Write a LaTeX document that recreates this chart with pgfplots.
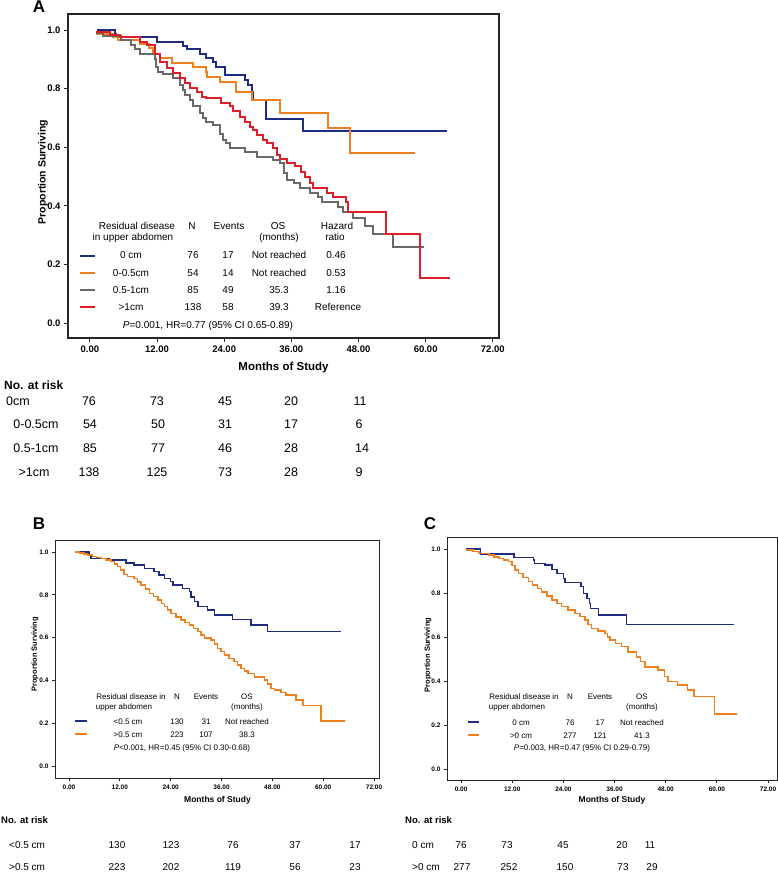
\documentclass[border=0pt]{standalone}
\usepackage{fontspec}
\setmainfont{Liberation Sans}
\usepackage{pgfplots}
\pgfplotsset{compat=1.18}

\definecolor{kmblue}{RGB}{32,44,130}
\definecolor{kmorange}{RGB}{240,128,30}
\definecolor{kmgray}{RGB}{105,105,105}
\definecolor{kmred}{RGB}{222,30,40}

\newcommand{\fs}[1]{\fontsize{#1}{#1}\selectfont}
% text node at pixel position (x from left, y from top)
\newcommand{\tx}[4][]{\node[inner sep=0pt,text height=0.72em,text depth=0pt,#1] at (#2pt,-#3pt) {#4};}

\pgfplotsset{
  km/.style={
    scale only axis,
    axis line style={draw=black!85},
    tick align=outside,
    xtick pos=bottom, ytick pos=left,
    xtick={0,12,24,36,48,60,72},
    ytick={0,0.2,0.4,0.6,0.8,1.0},
    /pgf/number format/assume math mode=true,
    xticklabel style={/pgf/number format/.cd,fixed,fixed zerofill,precision=2},
    yticklabel style={/pgf/number format/.cd,fixed,fixed zerofill,precision=1},
    xlabel={Months of Study},
    ylabel={Proportion Surviving},
    every axis plot/.append style={const plot, no markers, line cap=rect},
  }
}

\begin{document}
\begin{tikzpicture}
\path[use as bounding box] (0pt,0pt) rectangle (778pt,-872pt);

% ---------------- Panel A ----------------
\begin{axis}[km,
  at={(68pt,-14pt)}, anchor=north west,
  width=431pt, height=324pt,
  xmin=-3.9, xmax=73.1, ymin=-0.051, ymax=1.055,
  axis line style={line width=1.3pt},
  major tick length=4pt, every tick/.style={line width=1pt, black!85},
  tick label style={font=\bfseries\fs{9.5}},
  xlabel style={font=\bfseries\fs{11.5}, at={(axis description cs:0.5,-0.09)}, anchor=center},
  ylabel style={font=\bfseries\fs{10.5}, at={(axis description cs:-0.058,0.512)}, anchor=center},
]
\addplot[kmblue, line width=2pt] coordinates {
(1.4,1.0) (4.5,0.987) (4.6,0.975) (12,0.96) (16.7,0.947) (17.3,0.934) (19.6,0.92)
(20.8,0.905) (22,0.89) (22.6,0.875) (24.1,0.846) (27.7,0.83) (28.3,0.812) (28.9,0.79)
(29.2,0.76) (31.5,0.698) (38.1,0.655) (63.6,0.655)};
\addplot[kmorange, line width=2pt] coordinates {
(1.2,0.988) (4.2,0.975) (5,0.966) (9,0.954) (10.5,0.94) (11.3,0.92) (12.5,0.905)
(14.6,0.888) (18.4,0.875) (20.8,0.857) (21,0.84) (23.2,0.824) (26.2,0.79) (28.9,0.761)
(33.9,0.716) (42.6,0.667) (46.4,0.582) (57.9,0.582)};
\addplot[kmgray, line width=2pt] coordinates {
(1.2,0.99) (2.3,0.98) (5.5,0.965) (7.4,0.95) (8,0.935) (8.9,0.92) (11.6,0.903)
(11.9,0.875) (12.2,0.858) (13.1,0.85) (14.9,0.835) (16.1,0.812) (16.7,0.795) (17,0.778)
(17.9,0.761) (18.5,0.74) (19.6,0.716) (20.2,0.7) (20.8,0.687) (22,0.675) (23.2,0.647)
(23.8,0.624) (24.4,0.613) (25,0.596) (27.7,0.585) (29.8,0.568) (32.8,0.556) (34,0.545)
(34.6,0.511) (35.2,0.49) (36.4,0.477) (37.6,0.46) (39.3,0.443) (40.8,0.43) (41.4,0.414)
(44.4,0.397) (45.3,0.38) (47,0.357) (49.2,0.33) (50.5,0.304) (54.1,0.26) (59.5,0.26)};
\addplot[kmred, line width=2pt] coordinates {
(1.2,0.995) (3.6,0.985) (5.4,0.975) (9,0.96) (10.2,0.949) (11.6,0.92) (12.5,0.892)
(13.7,0.869) (14.9,0.852) (16.1,0.835) (17,0.818) (17.9,0.804) (19.1,0.79) (20,0.773)
(20.8,0.767) (23.5,0.75) (25,0.742) (25.6,0.725) (26.8,0.704) (27.7,0.687) (28.6,0.67)
(29.2,0.659) (29.8,0.642) (31,0.625) (31.6,0.613) (32.8,0.596) (33.4,0.573) (34,0.56)
(35.2,0.545) (36.7,0.535) (37.8,0.517) (38.4,0.5) (39.3,0.477) (39.9,0.46) (42.3,0.443)
(43.5,0.43) (45.8,0.414) (46.1,0.38) (53,0.304) (59,0.153) (64.1,0.153)};
\end{axis}

% ---------------- Panel B ----------------
\begin{axis}[km,
  at={(55pt,-540pt)}, anchor=north west,
  width=325pt, height=238pt,
  xmin=-3.3, xmax=73.4, ymin=-0.056, ymax=1.056,
  axis line style={line width=1pt},
  major tick length=3pt, every tick/.style={line width=0.8pt, black!85},
  tick label style={font=\bfseries\fs{6.5}},
  xlabel style={font=\bfseries\fs{8.5}, at={(axis description cs:0.5,-0.092)}, anchor=center},
  ylabel style={font=\bfseries\fs{7.5}, at={(axis description cs:-0.0615,0.52)}, anchor=center},
]
\addplot[kmblue, line width=1.5pt] coordinates {
(2,1.0) (4.7,0.985) (5.2,0.97) (9.5,0.962) (13.5,0.948) (15.4,0.94) (17.8,0.924)
(20.1,0.908) (21.3,0.893) (22.5,0.877) (24,0.862) (24.5,0.846) (26.8,0.83) (28.4,0.815)
(28.8,0.79) (29.6,0.768) (30.4,0.745) (32.7,0.729) (34.3,0.706) (38.6,0.685) (42.9,0.659)
(46.9,0.628) (64,0.628)};
\addplot[kmorange, line width=1.5pt] coordinates {
(1.6,1.0) (2.5,0.995) (3.5,0.99) (4.4,0.986) (5.5,0.98) (6.5,0.975) (7.5,0.97)
(8.7,0.962) (9.9,0.955) (10.7,0.945) (11.5,0.932) (12.2,0.915) (13,0.895) (13.8,0.885)
(15.4,0.875) (16.2,0.86) (17,0.846) (18,0.828) (19,0.807) (20,0.792) (21,0.776)
(21.8,0.76) (22.5,0.745) (23.3,0.729) (24.1,0.713) (25.2,0.697) (26.4,0.682) (27.4,0.67)
(28.4,0.659) (29.4,0.643) (30.4,0.628) (31.2,0.612) (32,0.597) (33.5,0.589) (34.3,0.57)
(35.1,0.55) (35.9,0.535) (36.7,0.519) (37.8,0.503) (39,0.488) (39.8,0.472) (40.6,0.456)
(41.4,0.444) (42.2,0.433) (43.8,0.417) (46.1,0.402) (46.9,0.383) (47.7,0.363) (48.5,0.355)
(50,0.343) (51.2,0.332) (53.6,0.308) (55.2,0.282) (59.5,0.21) (64.9,0.21)};
\end{axis}

% ---------------- Panel C ----------------
\begin{axis}[km,
  at={(447pt,-537pt)}, anchor=north west,
  width=330pt, height=243pt,
  xmin=-3.3, xmax=74.1, ymin=-0.05, ymax=1.055,
  axis line style={line width=1pt},
  major tick length=3pt, every tick/.style={line width=0.8pt, black!85},
  tick label style={font=\bfseries\fs{6.5}},
  xlabel style={font=\bfseries\fs{8.5}, at={(axis description cs:0.5,-0.082)}, anchor=center},
  ylabel style={font=\bfseries\fs{7.5}, at={(axis description cs:-0.0576,0.514)}, anchor=center},
]
\addplot[kmblue, line width=1.5pt] coordinates {
(1.4,1.0) (4.6,0.977) (12.4,0.962) (17,0.95) (17.2,0.935) (19.7,0.927) (21.3,0.908)
(22.5,0.889) (24,0.867) (24.4,0.847) (28.1,0.829) (28.7,0.798) (29.5,0.776) (30.1,0.753)
(30.4,0.73) (32.2,0.7) (38.8,0.658) (63.9,0.658)};
\addplot[kmorange, line width=1.5pt] coordinates {
(1.4,0.995) (2.8,0.99) (4.2,0.98) (6.5,0.973) (7.7,0.965) (8.9,0.958) (10,0.95)
(11.1,0.943) (12,0.925) (12.7,0.905) (13.5,0.889) (14.5,0.87) (15.8,0.852) (16.8,0.836)
(17.9,0.82) (18.9,0.806) (20.1,0.787) (21.3,0.768) (22.5,0.752) (23.6,0.738) (25.1,0.722)
(26.7,0.708) (27.9,0.693) (29.1,0.677) (29.8,0.658) (30.6,0.639) (32.1,0.628) (33.7,0.617)
(34.3,0.6) (34.9,0.586) (36.2,0.57) (37.6,0.556) (39.2,0.533) (41.1,0.51) (42.1,0.488)
(43.1,0.465) (46.2,0.45) (47.7,0.42) (48.5,0.397) (50.8,0.382) (53.1,0.359) (54.6,0.329)
(59.4,0.25) (64.6,0.25)};
\end{axis}

% ---------------- panel letters ----------------
\tx[font=\bfseries\fs{17}]{39}{9}{A}
\tx[font=\bfseries\fs{17}]{39}{526}{B}
\tx[font=\bfseries\fs{17}]{430}{526}{C}

% ---------------- legend A ----------------
\begin{scope}[every node/.append style={font=\fs{10}}]
\tx{137}{226}{Residual disease}
\tx{133}{237}{in upper abdomen}
\tx{192}{226}{N}
\tx{229}{226}{Events}
\tx{278}{226}{OS}
\tx{279}{237}{(months)}
\tx{337}{226}{Hazard}
\tx{335}{237}{ratio}
\tx{131}{255}{0 cm}     \tx{193}{255}{76}  \tx{228}{255}{17} \tx{279}{255}{Not reached} \tx{336}{255}{0.46}
\tx{131}{273}{0-0.5cm}  \tx{193}{273}{54}  \tx{228}{273}{14} \tx{279}{273}{Not reached} \tx{336}{273}{0.53}
\tx{131}{290}{0.5-1cm}  \tx{193}{290}{85}  \tx{228}{290}{49} \tx{279}{290}{35.3}        \tx{336}{290}{1.16}
\tx{131}{307}{>1cm}     \tx{193}{307}{138} \tx{228}{307}{58} \tx{279}{307}{39.3}        \tx{338}{307}{Reference}
\tx{208}{325}{\textit{P}=0.001, HR=0.77 (95\% CI 0.65-0.89)}
\end{scope}
\draw[kmblue,   line width=2pt] (80pt,-256pt) -- (95pt,-256pt);
\draw[kmorange, line width=2pt] (80pt,-273pt) -- (95pt,-273pt);
\draw[kmgray,   line width=2pt] (80pt,-290pt) -- (95pt,-290pt);
\draw[kmred,    line width=2pt] (80pt,-307pt) -- (95pt,-307pt);

% ---------------- risk table A ----------------
\tx[anchor=west,font=\bfseries\fs{12}]{4}{386}{No. at risk}
\begin{scope}[every node/.append style={font=\fs{12.5}}]
\tx[anchor=west]{6}{402}{0cm}
\tx{36}{425}{0-0.5cm}
\tx{36}{449}{0.5-1cm}
\tx{34}{473}{>1cm}
\tx{89}{402}{76}  \tx{157}{402}{73}  \tx{225}{402}{45} \tx{291}{402}{20} \tx{360}{402}{11}
\tx{90}{425}{54}  \tx{158}{425}{50}  \tx{225}{425}{31} \tx{291}{425}{17} \tx{359}{425}{6}
\tx{90}{449}{85}  \tx{158}{449}{77}  \tx{225}{449}{46} \tx{291}{449}{28} \tx{362}{449}{14}
\tx{89}{473}{138} \tx{157}{473}{125} \tx{225}{473}{73} \tx{291}{473}{28} \tx{359}{473}{9}
\end{scope}

% ---------------- legend B ----------------
\begin{scope}[every node/.append style={font=\fs{8}}]
\tx{131}{696}{Residual disease in}
\tx{124}{706}{upper abdomen}
\tx{177}{696}{N}
\tx{206}{696}{Events}
\tx{247}{696}{OS}
\tx{247}{706}{(months)}
\tx{128}{721}{<0.5 cm} \tx{177}{721}{130} \tx{206}{721}{31}  \tx{247}{721}{Not reached}
\tx{128}{734}{>0.5 cm} \tx{177}{734}{223} \tx{206}{734}{107} \tx{247}{734}{38.3}
\tx{182}{747}{\textit{P}<0.001, HR=0.45 (95\% CI 0.30-0.68)}
\end{scope}
\draw[kmblue,   line width=1.5pt] (75pt,-721pt) -- (87pt,-721pt);
\draw[kmorange, line width=1.5pt] (75pt,-734pt) -- (87pt,-734pt);

% ---------------- risk table B ----------------
\tx[anchor=west,font=\bfseries\fs{9.5}]{1}{820}{No. at risk}
\begin{scope}[every node/.append style={font=\fs{10}}]
\tx[anchor=west]{9}{845}{<0.5 cm}
\tx[anchor=west]{9}{867}{>0.5 cm}
\tx{117}{845}{130} \tx{171}{845}{123} \tx{233}{845}{76}  \tx{295}{845}{37} \tx{355}{845}{17}
\tx{117}{867}{223} \tx{171}{867}{202} \tx{233}{867}{119} \tx{295}{867}{56} \tx{355}{867}{23}
\end{scope}

% ---------------- legend C ----------------
\begin{scope}[every node/.append style={font=\fs{8}}]
\tx{524}{696}{Residual disease in}
\tx{517}{706}{upper abdomen}
\tx{570}{696}{N}
\tx{600}{696}{Events}
\tx{642}{696}{OS}
\tx{642}{706}{(months)}
\tx{521}{722}{0 cm}  \tx{570}{722}{76}  \tx{600}{722}{17}  \tx{642}{722}{Not reached}
\tx{521}{735}{>0 cm} \tx{570}{735}{277} \tx{600}{735}{121} \tx{642}{735}{41.3}
\tx{582}{747}{\textit{P}=0.003, HR=0.47 (95\% CI 0.29-0.79)}
\end{scope}
\draw[kmblue,   line width=1.5pt] (468pt,-722pt) -- (479pt,-722pt);
\draw[kmorange, line width=1.5pt] (468pt,-735pt) -- (479pt,-735pt);

% ---------------- risk table C ----------------
\tx[anchor=west,font=\bfseries\fs{9.5}]{405}{820}{No. at risk}
\begin{scope}[every node/.append style={font=\fs{10}}]
\tx[anchor=west]{412}{845}{0 cm}
\tx[anchor=west]{412}{867}{>0 cm}
\tx{461}{845}{76}  \tx{507}{845}{73}  \tx{563}{845}{45}  \tx{622}{845}{20} \tx{650}{845}{11}
\tx{462}{867}{277} \tx{509}{867}{252} \tx{565}{867}{150} \tx{623}{867}{73} \tx{652}{867}{29}
\end{scope}
\end{tikzpicture}
\end{document}
